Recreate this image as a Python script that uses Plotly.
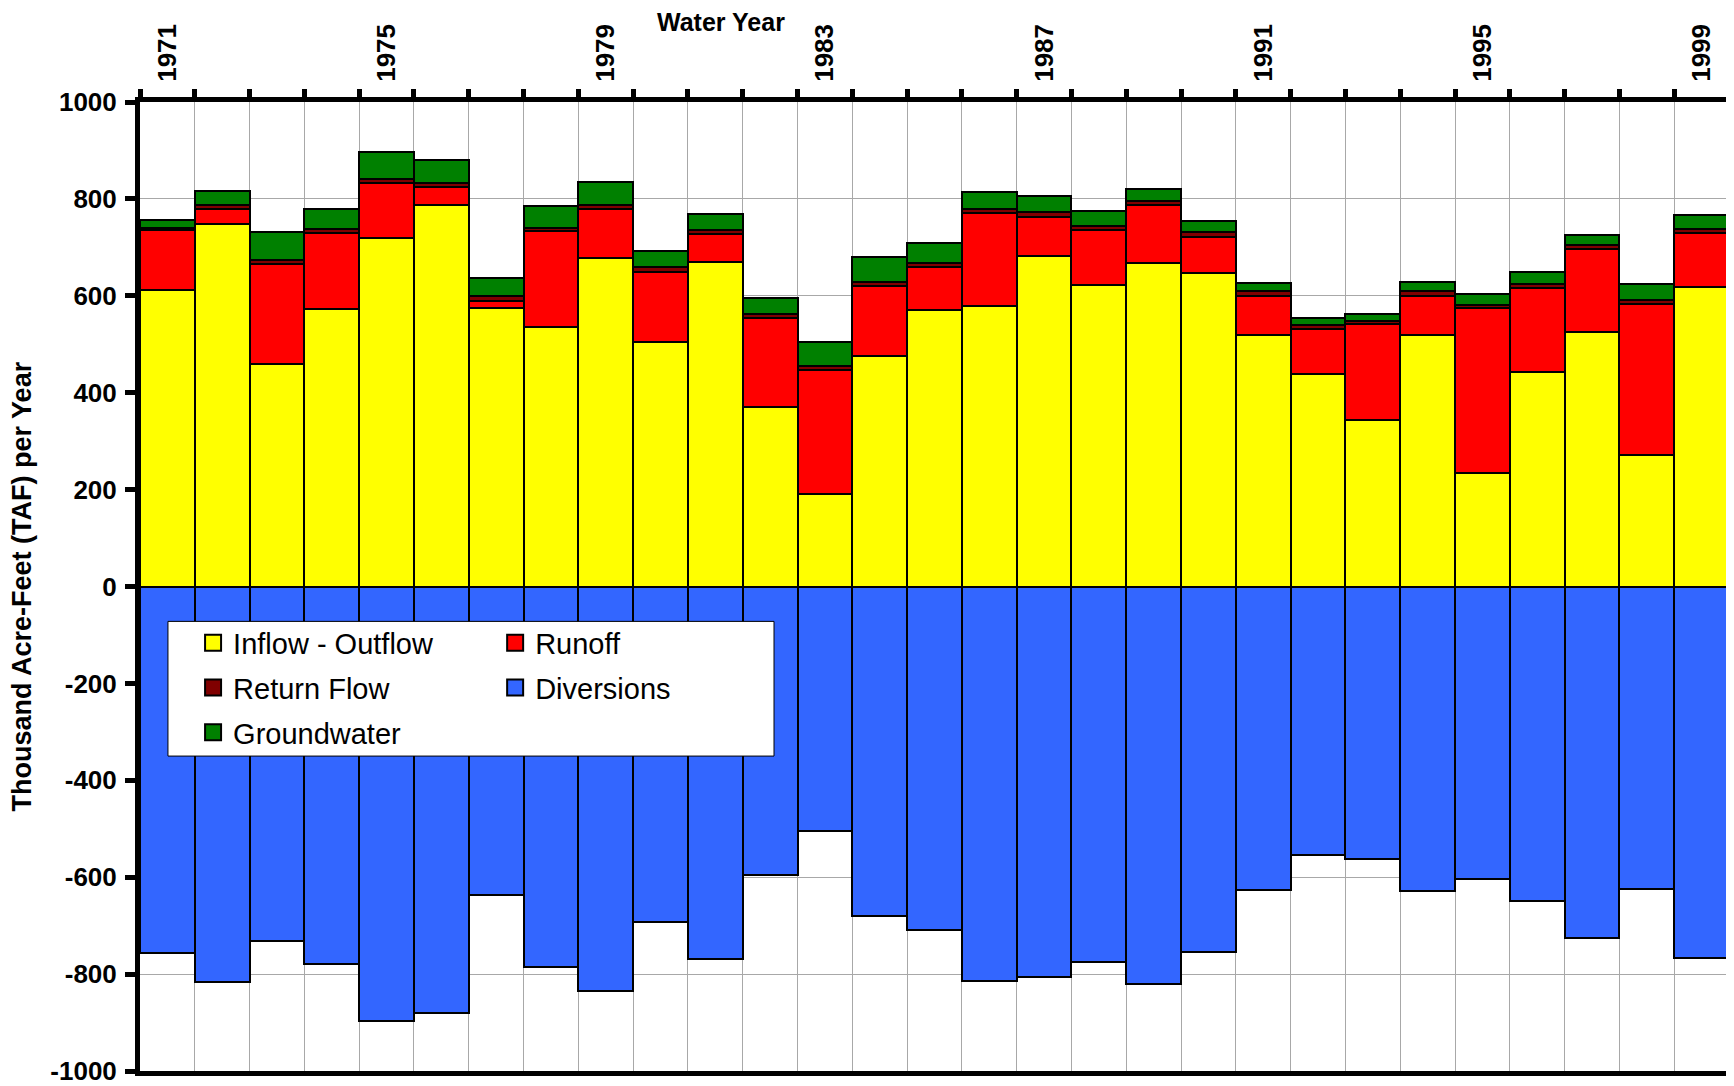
import plotly.graph_objects as go

years = list(range(1971, 2000))
inflow_outflow = [613, 748, 460, 572, 720, 787, 574, 536, 677, 505, 669, 371, 190, 476, 570,
                  579, 682, 622, 668, 647, 519, 438, 344, 519, 234, 442, 525, 271, 619]
runoff = [122, 32, 205, 158, 113, 38, 16, 197, 103, 145, 58, 184, 257, 144, 90,
          191, 80, 113, 119, 75, 81, 93, 197, 81, 340, 175, 171, 313, 110]
return_flow = [5, 8, 8, 7, 8, 8, 9, 7, 8, 9, 8, 8, 8, 8, 8,
               9, 10, 9, 9, 9, 9, 8, 8, 9, 8, 8, 9, 8, 8]
groundwater = [16, 28, 59, 43, 55, 48, 38, 46, 46, 33, 33, 33, 49, 52, 40,
               35, 33, 31, 25, 23, 18, 16, 13, 20, 21, 24, 21, 32, 29]
diversions = [-756, -816, -732, -780, -896, -881, -637, -786, -834, -692, -768, -596, -504, -680, -708,
              -814, -805, -775, -821, -754, -627, -555, -562, -629, -603, -649, -726, -624, -766]
year_labels = [1971, 1975, 1979, 1983, 1987, 1991, 1995, 1999]
y_ticks = [-1000, -800, -600, -400, -200, 0, 200, 400, 600, 800, 1000]
y_tick_text = ["-1000", "-800", "-600", "-400", "-200", "0", "200", "400", "600", "800", "1000"]

FONT = "Liberation Sans, Arial, sans-serif"
line = dict(color="black", width=2)

series = [
    ("Inflow - Outflow", inflow_outflow, "#FFFF00", "legend"),
    ("Runoff", runoff, "#FF0000", "legend2"),
    ("Return Flow", return_flow, "#800000", "legend"),
    ("Groundwater", groundwater, "#008000", "legend"),
    ("Diversions", diversions, "#3366FF", "legend2"),
]

fig = go.Figure()
for name, vals, color, leg in series:
    fig.add_trace(go.Bar(x=years, y=vals, name=name, legendgroup=name,
                         marker=dict(color=color, line=line), showlegend=False))
# legend swatches (larger squares, as in the original legend)
for name, vals, color, leg in series:
    fig.add_trace(go.Scatter(x=[None], y=[None], mode="markers", name=name, legendgroup=name,
                             legend=leg, showlegend=True,
                             marker=dict(symbol="square", size=16, color=color,
                                         line=dict(color="black", width=2))))

legend_common = dict(
    font=dict(family=FONT, size=29, color="black"),
    bgcolor="rgba(0,0,0,0)", borderwidth=0,
    orientation="v", xanchor="left", yanchor="top",
    tracegroupgap=4, itemclick=False, itemsizing="trace",
)

fig.update_layout(
    width=1726, height=1078,
    margin=dict(l=132, r=5, t=94, b=15),
    paper_bgcolor="white", plot_bgcolor="white",
    barmode="relative", bargap=0,
    font=dict(family=FONT, color="black"),
    showlegend=True,
    legend=dict(x=0.0334, y=0.468, **legend_common),
    legend2=dict(x=0.2235, y=0.468, **legend_common),
    xaxis=dict(
        side="top", range=[1970.5, 1999.5], automargin=False, ticklabeloverflow="allow",
        tickmode="array", tickvals=year_labels, ticktext=[str(v) for v in year_labels],
        tickangle=-90, tickfont=dict(family=FONT, size=26, color="black", weight="bold"),
        ticks="outside", ticklen=10, tickcolor="rgba(0,0,0,0)",
        showgrid=False, zeroline=False,
        showline=True, linecolor="black", linewidth=5, mirror=True,
        minor=dict(tick0=1970.5, dtick=1, ticks="outside", ticklen=8, tickwidth=5,
                   tickcolor="black", showgrid=True, gridcolor="#A8A8A8", gridwidth=1),
    ),
    yaxis=dict(
        range=[-1000, 1000], automargin=False, ticklabeloverflow="allow",
        tickmode="array", tickvals=y_ticks, ticktext=y_tick_text,
        tickfont=dict(family=FONT, size=26, color="black", weight="bold"),
        ticks="outside", ticklen=10, tickwidth=5, tickcolor="black", ticklabelstandoff=3,
        showgrid=True, gridcolor="#A8A8A8", gridwidth=1, zeroline=False,
        showline=True, linecolor="black", linewidth=5, mirror=True,
    ),
    shapes=[dict(type="rect", xref="paper", yref="paper",
                 x0=0.0176, x1=0.399, y0=0.325, y1=0.464,
                 fillcolor="white", line=dict(color="black", width=1), layer="above")],
    annotations=[
        dict(text="<b>Water Year</b>", xref="paper", yref="paper", x=0.3656, y=1.0826,
             xanchor="center", yanchor="middle", showarrow=False,
             font=dict(family=FONT, size=25, color="black")),
        dict(text="<b>Thousand Acre-Feet (TAF) per Year</b>", xref="paper", yref="paper",
             x=-0.0743, y=0.5, xanchor="center", yanchor="middle", textangle=-90,
             showarrow=False, font=dict(family=FONT, size=27, color="black")),
    ],
)

fig.write_html("out.html")
